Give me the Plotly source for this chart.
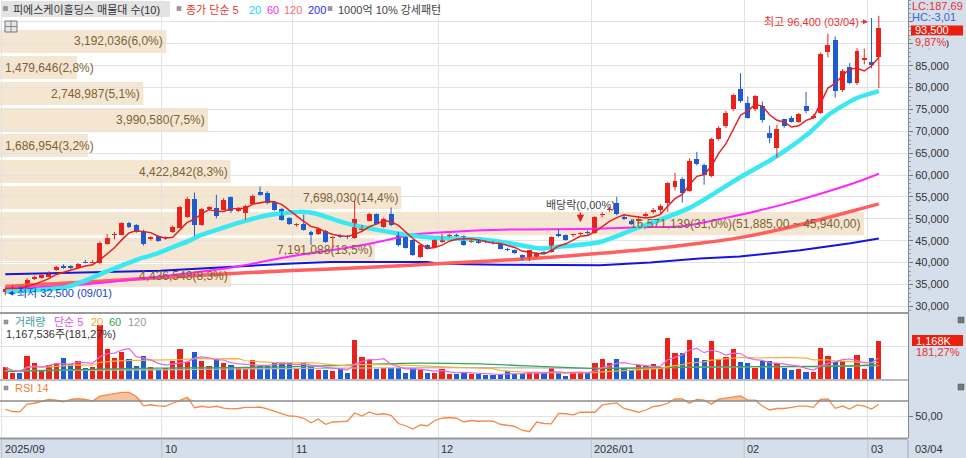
import plotly.graph_objects as go
import pandas as pd

# ---------------- data ----------------
opens = [33300, 34200, 34300, 34100, 36200, 36500, 36800, 38300, 39200, 39100,
         38700, 40200, 40000, 39900, 44300, 46300, 46400, 49000, 48500, 47300,
         45300, 46000, 45500, 47000, 48000, 50400, 54500, 48600, 52300, 52400,
         52000, 54900, 51700, 51300, 53400, 56200, 56000, 53800, 52300, 50100,
         48500, 48900, 46900, 46600, 47300, 45600, 46100, 46000, 45700, 47400,
         49600, 51000, 48100, 51000, 46700, 45800, 45100, 41300, 43900, 43500,
         44700, 46000, 46300, 46000, 44800, 45100, 44900, 44700, 44300, 43100,
         42800, 41700, 40500, 41300, 42400, 42400, 46600, 46200, 46200, 46500,
         46900, 46800, 50800, 52000, 53500, 50400, 49400, 49600, 50700, 51500,
         51900, 53500, 57200, 59100, 56400, 63700, 62300, 59700, 68200, 71200,
         75000, 79600, 76500, 75000, 75700, 69700, 66100, 72700, 73100, 72200,
         75800, 73100, 74200, 88200, 90900, 79500, 84600, 81000, 86400, 85900,
         87000]
highs = [34300, 34800, 34700, 36400, 37000, 37300, 38000, 39300, 39600, 39400,
         39900, 40600, 40600, 44800, 46500, 47000, 49200, 49300, 48800, 47500,
         46000, 46200, 46000, 48500, 52900, 55000, 56000, 52500, 52900, 55500,
         54700, 55100, 52700, 53200, 55600, 57400, 56300, 54100, 52500, 50400,
         49000, 51000, 47300, 47900, 47500, 46000, 46500, 46300, 54200, 48600,
         51400, 51200, 50300, 52600, 47000, 46000, 45300, 44200, 44200, 45300,
         46500, 46600, 46600, 46200, 45300, 45300, 45100, 45000, 44500, 43400,
         43000, 41900, 42900, 42400, 42600, 46000, 47600, 46400, 46600, 46900,
         47300, 50600, 51500, 52700, 55000, 51100, 49900, 50600, 51500, 52500,
         53300, 58400, 60500, 59500, 63800, 65300, 62600, 68500, 71200, 74700,
         78600, 83300, 78000, 78300, 76800, 71300, 71500, 72900, 73500, 74200,
         79000, 74000, 88000, 92300, 91700, 84200, 85600, 89000, 88900, 95900,
         96400]
lows = [32500, 33900, 33900, 33900, 36000, 36300, 36600, 38100, 38600, 38500,
        38500, 39800, 39800, 39700, 44000, 45300, 46200, 47900, 46800, 43900,
        45000, 44700, 45200, 46800, 47800, 50200, 46100, 48400, 51800, 50100,
        51900, 51300, 51500, 49800, 53200, 55300, 53300, 51800, 49500, 48600,
        48200, 47300, 44000, 46300, 44500, 43400, 45600, 45400, 45400, 47100,
        49400, 48700, 47900, 48300, 43700, 43200, 41500, 41000, 43000, 43300,
        44500, 45800, 45900, 43800, 44500, 44300, 44400, 44100, 43000, 42600,
        41900, 40400, 40300, 41100, 42000, 42200, 45800, 45000, 45800, 46200,
        46400, 46600, 50300, 51600, 50800, 49700, 48600, 49300, 50300, 51200,
        51300, 51600, 56500, 53700, 56200, 62200, 57800, 59500, 67900, 70800,
        74600, 76500, 72900, 74600, 72000, 67300, 64000, 70800, 72000, 71900,
        74100, 72800, 74000, 86900, 77700, 79000, 80800, 80600, 85300, 84400,
        79900]
closes = [34050, 34300, 34100, 36100, 36600, 37100, 37700, 38900, 38800, 38700,
          39700, 40000, 40200, 44500, 45700, 46500, 49000, 48200, 47000, 44200,
          45800, 44900, 45800, 48100, 52600, 54500, 48500, 52300, 52600, 50600,
          54300, 51700, 52500, 53000, 55300, 55500, 53600, 52100, 49800, 48900,
          48700, 47500, 46400, 47700, 44700, 45800, 45900, 45800, 50000, 48100,
          51100, 48900, 50000, 48500, 43900, 43400, 41700, 43900, 43200, 45100,
          46000, 46200, 46100, 43900, 45000, 44500, 44600, 44400, 43200, 42900,
          42100, 40500, 42800, 42200, 42200, 45800, 46000, 45200, 46400, 46600,
          46700, 50300, 51100, 52300, 51000, 49900, 48900, 50000, 51100, 52100,
          53000, 58100, 58700, 56000, 63200, 62500, 60100, 68200, 70800, 74200,
          78300, 76900, 73100, 78000, 72500, 68400, 70600, 71200, 72200, 73900,
          74600, 73500, 87700, 89800, 79100, 83700, 81000, 88400, 86700, 85100,
          93500]
volumes = [364000, 182000, 182000, 707000, 505000, 263000, 434000, 485000, 657000, 465000,
           566000, 354000, 384000, 1646000, 919000, 657000, 818000, 626000, 404000, 707000,
           384000, 283000, 354000, 556000, 919000, 535000, 838000, 556000, 414000, 606000,
           505000, 434000, 384000, 303000, 586000, 414000, 414000, 485000, 485000, 485000,
           354000, 485000, 384000, 283000, 283000, 263000, 354000, 202000, 1192000, 667000,
           586000, 313000, 354000, 354000, 354000, 202000, 354000, 283000, 182000, 202000,
           303000, 152000, 152000, 232000, 152000, 152000, 131000, 131000, 162000, 253000,
           152000, 172000, 232000, 182000, 182000, 354000, 182000, 111000, 232000, 212000,
           232000, 485000, 606000, 485000, 606000, 333000, 283000, 434000, 414000, 465000,
           384000, 1242000, 808000, 808000, 1192000, 636000, 586000, 1172000, 586000, 687000,
           919000, 535000, 505000, 333000, 566000, 556000, 485000, 354000, 283000, 303000,
           232000, 232000, 939000, 707000, 535000, 556000, 333000, 737000, 303000, 644085,
           1167536]
rsi14 = [59, 56, 55.5, 66, 67, 69, 72, 71, 69, 72,
         73, 72, 70, 76.5, 78, 79, 81.5, 81.5, 76, 63.5,
         65, 63.5, 63, 67, 71, 75, 61, 63, 61.5, 63,
         60.5, 59.5, 60, 61.5, 61.5, 62, 59.5, 56, 53, 50,
         49.5, 47, 41, 46, 39, 42, 42.5, 43, 54, 50,
         55.5, 52, 53, 51, 40, 37, 32.7, 38, 37, 44,
         47, 48, 47, 42, 44, 43, 43.5, 43, 39, 37.5,
         36, 31, 29, 42, 40, 39.5, 53.5, 53, 51.5, 55,
         55.5, 55, 64.7, 66, 67.5, 60, 58, 55, 58, 62.4,
         64, 67, 72.7, 72.7, 66.9, 72, 71, 65.8, 72.5, 74.2,
         75.6, 76.9, 71.1, 71.1, 63.3, 58, 60, 60, 61.5, 63.3,
         63.3, 61.5, 72, 72.7, 60.2, 63.3, 59.3, 64.7, 63.3, 59.3,
         65.6]

# moving averages (candle index, value)
ma20_idx = [0, 8.5, 14.4, 18.5, 20.6, 23.0, 25.3, 26.75, 29.8, 32.5, 35.7, 39.5, 40.8, 42.6, 47.0, 52.9,
            58.3, 65.2, 69.7, 73.5, 76.6, 81.7, 86.2, 94.0, 100.9, 105.5, 110.2, 113.3, 117.0, 120]
ma20_val = [33400, 34450, 38250, 40900, 41900, 43500, 45000, 46200, 47900, 49300, 50700, 51500, 51600, 51200, 48900, 46950,
            45700, 45300, 44300, 43200, 43700, 44700, 47500, 52500, 59450, 63800, 69300, 74000, 77600, 79200]
ma60_idx = [0, 10.3, 21.3, 30.9, 39.5, 47.4, 51.5, 55.6, 61.1, 68, 80.8, 88.6, 93.1, 98.6, 103.3, 107.8, 112.3, 117, 120]
ma60_val = [34000, 34900, 36800, 38800, 41500, 43500, 44800, 46300, 47000, 47500, 47700, 48100, 48300, 50100, 51800,
            53700, 55900, 58400, 60300]
ma120_idx = [0, 13, 26.8, 39.5, 50.1, 61.1, 72.3, 81.7, 88.6, 95.4, 100.9, 106.8, 113.3, 120]
ma120_val = [34500, 35700, 37100, 38200, 38900, 39900, 40900, 42100, 43100, 44400, 45700, 47700, 50400, 53400]
ma200_idx = [0, 21.3, 39.5, 44.6, 58.0, 59.7, 68, 81.7, 88.6, 95.4, 100.9, 109.2, 116.1, 120]
ma200_val = [37300, 38100, 39800, 40100, 40100, 39700, 39500, 39400, 40000, 40900, 41400, 42800, 44400, 45500]
vma60_idx = [0, 8.4, 17.6, 31.3, 45.1, 54.2, 65.2, 74.4, 80.7, 90.9, 100.9, 111, 119.8]
vma60_val = [232000, 282000, 333000, 353000, 413000, 484000, 464000, 383000, 333000, 353000, 383000, 383000, 433000]
vma120_idx = [0, 17.6, 41, 65.2, 80.7, 90.9, 120]
vma120_val = [262000, 282000, 333000, 353000, 333000, 353000, 413000]

month_start_idx = [0, 22, 40, 60, 81, 102, 119]
month_labels = ["2025/09", "10", "11", "12", "2026/01", "02", "03"]
last_date = "03/04"

# volume profile (매물대), bottom band first
band_low = 34050
band_step = 5945
band_vol = [4436548, 7191088, 16571139, 7698030, 4422842, 1686954, 3990580, 2748987, 1479646, 3192036]
band_pct = [8.3, 13.5, 31.0, 14.4, 8.3, 3.2, 7.5, 5.1, 2.8, 6.0]

price_ticks = [30000, 35000, 40000, 45000, 50000, 55000, 60000, 65000, 70000, 75000, 80000, 85000, 90000, 95000]

# ---------------- geometry / styles ----------------
W, H = 966, 458
PW, PH = 908, 438
STEP_PX = 7.28
X0_PX = 1.6


def xi(p):
    return (p - X0_PX) / STEP_PX - 0.5


X_LEFT, X_RIGHT = xi(0), xi(PW)
K = 0.004375          # px per won
Y30 = 306.3           # pixel row of 30,000


def price_at(y):
    return 30000 + (Y30 - y) / K


P_LO, P_HI = price_at(313), price_at(0)
VPX = 30247
V_LO, V_HI = -0.7 * VPX, (379.3 - 313) * VPX
R_LO, R_HI = 50 - (438 - 416) / 0.75, 50 + (416 - 380) / 0.75


def px(x):
    return x / PW


def py(y):
    return 1 - y / PH


FONT = "Liberation Sans, Arial, Noto Sans CJK KR, sans-serif"
FS = 11
BFONT = "Liberation Sans, Arial, Noto Sans CJK KR, sans-serif"
RED = "#e8231b"
BLUE = "#1e5ccf"
PANEL = "#d5dfec"
GRID = "#e2e2e2"

n = len(closes)
idx = list(range(n))

fig = go.Figure()


def add_line(xs, ys, color, width, yaxis="y", spline=True):
    ln = dict(color=color, width=width)
    if spline:
        ln.update(shape="spline", smoothing=0.7)
    fig.add_trace(go.Scatter(x=xs, y=ys, mode="lines", line=ln, xaxis="x", yaxis=yaxis,
                             hoverinfo="skip", showlegend=False))


# price moving averages
add_line(ma200_idx, ma200_val, "#1515e0", 2, spline=False)
add_line(ma120_idx, ma120_val, "#ff5f5f", 3.5)
add_line(ma60_idx, ma60_val, "#ff26ff", 2)
add_line(ma20_idx, ma20_val, "#3ae8f2", 4.5)

# candles
up = [i for i in idx if closes[i] >= opens[i]]
dn = [i for i in idx if closes[i] < opens[i]]
MINH = 230
for group, col in ((up, RED), (dn, BLUE)):
    wx, wy = [], []
    for i in group:
        wx += [i, i, None]
        wy += [lows[i], highs[i], None]
    fig.add_trace(go.Scatter(x=wx, y=wy, mode="lines", line=dict(color=col, width=1),
                             xaxis="x", yaxis="y", hoverinfo="skip", showlegend=False))
    hts, bases = [], []
    for i in group:
        d = abs(closes[i] - opens[i])
        lo = min(closes[i], opens[i])
        if d < MINH:
            lo -= (MINH - d) / 2
            d = MINH
        hts.append(d)
        bases.append(lo)
    fig.add_trace(go.Bar(x=group, y=hts, base=bases, width=0.68, marker=dict(color=col, line=dict(width=0)),
                         xaxis="x", yaxis="y", hoverinfo="skip", showlegend=False))

# 5-day MA of close
ma5 = pd.Series(closes).rolling(5, min_periods=1).mean().tolist()
add_line(idx, ma5, "#e62020", 1.5, spline=False)

# volume
vcol = [RED if closes[i] >= opens[i] else BLUE for i in idx]
fig.add_trace(go.Bar(x=idx, y=volumes, width=0.72, marker=dict(color=vcol, line=dict(width=0)),
                     xaxis="x", yaxis="y2", hoverinfo="skip", showlegend=False))
vs = pd.Series(volumes)
add_line(vma120_idx, vma120_val, "#b4b4b4", 1.3, yaxis="y2")
add_line(vma60_idx, vma60_val, "#35a855", 1.3, yaxis="y2")
add_line(idx, vs.rolling(20, min_periods=1).mean().tolist(), "#f3b33c", 1.2, yaxis="y2", spline=False)
add_line(idx, vs.rolling(5, min_periods=1).mean().tolist(), "#e468e4", 1.2, yaxis="y2", spline=False)

# RSI
fig.add_trace(go.Scatter(x=idx, y=[70] * n, mode="lines", line=dict(width=0, color="rgba(0,0,0,0)"),
                         xaxis="x", yaxis="y3", hoverinfo="skip", showlegend=False))
fig.add_trace(go.Scatter(x=idx, y=[max(r, 70) for r in rsi14], mode="lines", line=dict(width=0, color="rgba(0,0,0,0)"),
                         fill="tonexty", fillcolor="#f7c39d", xaxis="x", yaxis="y3", hoverinfo="skip",
                         showlegend=False))
fig.add_trace(go.Scatter(x=idx, y=rsi14, mode="lines", line=dict(color="#f28a4c", width=1.3),
                         xaxis="x", yaxis="y3", hoverinfo="skip", showlegend=False))

# ---------------- shapes ----------------
shapes = []
annos = []
max_vol = max(band_vol)
BAND_W = xi(864) - X_LEFT
inset = band_step * 0.055
for k in range(len(band_vol)):
    lo = band_low + k * band_step
    hi = lo + band_step
    x1 = X_LEFT + band_vol[k] / max_vol * BAND_W
    shapes.append(dict(type="rect", xref="x", yref="y", x0=X_LEFT, x1=x1, y0=lo + inset, y1=hi - inset,
                       fillcolor="#f5e6d2", line=dict(width=0), layer="below"))
    label = f"{band_vol[k]:,}({band_pct[k]:.1f}%)".replace(".", ",")
    if band_vol[k] == max_vol:
        label += f"({hi:,.2f} ~ {lo:,.2f})".replace(".", ",")
    if band_pct[k] < 3.5:
        annos.append(dict(x=X_LEFT, y=(lo + hi) / 2, xref="x", yref="y", text=label, showarrow=False,
                          xanchor="left", xshift=3, font=dict(family=BFONT, size=12, color="#7d6232")))
    else:
        annos.append(dict(x=x1, y=(lo + hi) / 2, xref="x", yref="y", text=label, showarrow=False,
                          xanchor="right", xshift=-1, font=dict(family=BFONT, size=12, color="#7d6232")))

# panel separators / frames
for yy, col, wd in ((313, "#9c9c9c", 2), (380, "#a5a5a5", 1.5), (438.5, "#9a9a9a", 2)):
    shapes.append(dict(type="line", xref="paper", yref="paper", x0=0, x1=1, y0=py(yy), y1=py(yy),
                       line=dict(color=col, width=wd)))
shapes.append(dict(type="line", xref="paper", yref="y3", x0=0, x1=1, y0=70, y1=70,
                   line=dict(color="#8c8c8c", width=1.5)))
# month lines inside the date strip
for m in month_start_idx:
    shapes.append(dict(type="line", xref="x", yref="paper", x0=m - 0.5, x1=m - 0.5, y0=py(440), y1=py(458),
                       line=dict(color="#b9c3d1", width=1)))
shapes.append(dict(type="line", xref="paper", yref="paper", x0=px(PW), x1=px(PW), y0=py(440), y1=py(458),
                   line=dict(color="#9aa4b2", width=1)))

# title box and legend markers
shapes.append(dict(type="rect", xref="paper", yref="paper", x0=px(2), x1=px(170), y0=py(17), y1=py(1),
                   fillcolor="#e3e3e3", line=dict(width=0)))
for (sx, sy) in ((3.5, 8.5), (177, 8.5), (328, 8.5), (4, 322), (4, 388)):
    shapes.append(dict(type="rect", xref="paper", yref="paper", x0=px(sx), x1=px(sx + 4), y0=py(sy + 2),
                       y1=py(sy - 2), fillcolor="#9a9a9a", line=dict(color="#777", width=0.5)))
# table icon
shapes.append(dict(type="rect", xref="paper", yref="paper", x0=px(5), x1=px(17), y0=py(32), y1=py(21),
                   fillcolor="#e6e6e6", line=dict(color="#777", width=1)))
shapes.append(dict(type="line", xref="paper", yref="paper", x0=px(5), x1=px(17), y0=py(26.5), y1=py(26.5),
                   line=dict(color="#888", width=1)))
shapes.append(dict(type="line", xref="paper", yref="paper", x0=px(11), x1=px(11), y0=py(32), y1=py(21),
                   line=dict(color="#888", width=1)))
# right panel small icons
for sy in (320, 387):
    shapes.append(dict(type="rect", xref="paper", yref="paper", x0=px(958), x1=px(964), y0=py(sy + 3),
                       y1=py(sy - 3), fillcolor="#777", line=dict(color="#555", width=0.5)))
# price / volume value boxes
shapes.append(dict(type="rect", xref="paper", yref="paper", x0=px(911), x1=px(963), y0=py(35.5), y1=py(25.5),
                   fillcolor="#e8200f", line=dict(width=0)))
shapes.append(dict(type="rect", xref="paper", yref="paper", x0=px(912), x1=px(963), y0=py(346), y1=py(335),
                   fillcolor="#e8200f", line=dict(width=0)))


def txt(x, y, s, color="#333", size=FS, family=FONT, xanchor="left", **kw):
    d = dict(x=px(x), y=py(y), xref="paper", yref="paper", text=s, showarrow=False, xanchor=xanchor,
             yanchor="middle", font=dict(family=family, size=size, color=color))
    d.update(kw)
    return d


# top legend
annos += [
    txt(11, 9.5, "피에스케이홀딩스 매물대 수(10)", "#333"),
    txt(184, 9.5, "종가 단순 5", "#e8382a"),
    txt(247, 9.5, "20", "#22d8ea"),
    txt(265, 9.5, "60", "#f030f0"),
    txt(282, 9.5, "120", "#ff6b6b"),
    txt(306, 9.5, "200", "#2a2aff"),
    txt(336, 9.5, "1000억 10% 강세패턴", "#444"),
]
# volume legend
pct_prev = volumes[-1] / volumes[-2] * 100
annos += [
    txt(13, 322, "거래량", "#3d9ea3"),
    txt(52, 322, "단순 5", "#e05ae0"),
    txt(89, 322, "20", "#f0a830"),
    txt(107, 322, "60", "#2fa84f"),
    txt(126, 322, "120", "#9a9a9a"),
    txt(4, 334, f"{volumes[-1]:,}주({pct_prev:.2f}%)".replace(".", ","), "#333"),
    txt(13, 388, "RSI 14", "#f08040"),
]
# right axis texts
chg = (closes[-1] / closes[-2] - 1) * 100
annos += [
    txt(910, 5.5, "LC:187,69", "#e83030"),
    txt(910, 16.5, "HC:-3,01", "#3565d0"),
    txt(913, 30.5, f"{closes[-1]:,}", "white"),
    txt(914, 41.5, f"{chg:.2f}%".replace(".", ","), "#e83030", bgcolor=PANEL, borderpad=0),
    txt(914, 340.5, f"{round(volumes[-1] / 1000):,}K", "white"),
    txt(914, 351.5, f"{pct_prev:.2f}%".replace(".", ","), "#e83030"),
]
# date labels
for m, lab in zip(month_start_idx, month_labels):
    annos.append(dict(x=m - 0.5, y=py(449), xref="x", yref="paper", text=lab, showarrow=False,
                      xanchor="left", xshift=1, yanchor="middle", font=dict(family=FONT, size=FS, color="#333")))
annos.append(txt(913, 449, last_date, "#333"))

# high / low / dividend markers
i_hi = highs.index(max(highs))
i_lo = lows.index(min(lows))
annos.append(dict(x=i_hi - 1.5, y=max(highs), xref="x", yref="y", yshift=-6,
                  text=f"최고 {max(highs):,} (03/04)", showarrow=True, arrowhead=2, arrowsize=1, arrowwidth=1,
                  arrowcolor="#e83030", ax=-56, ay=0, font=dict(family=FONT, size=FS, color="#e83030")))
annos.append(dict(x=i_lo, y=min(lows), xref="x", yref="y", xshift=3, yshift=2,
                  text=f"최저 {min(lows):,} (09/01)", showarrow=True, arrowhead=2, arrowsize=1, arrowwidth=1,
                  arrowcolor="#2040d0", ax=56, ay=0, font=dict(family=FONT, size=FS, color="#2040d0")))
annos.append(dict(x=79, y=highs[79], xref="x", yref="y", yshift=10,
                  text="배당락(0,00%)", showarrow=True, arrowhead=2, arrowsize=1, arrowwidth=1.5,
                  arrowcolor="#e02020", ax=0, ay=-17, font=dict(family=FONT, size=FS, color="#444")))

fig.update_layout(
    width=W, height=H,
    margin=dict(l=0, r=W - PW, t=0, b=H - PH, pad=0),
    paper_bgcolor=PANEL, plot_bgcolor="white",
    barmode="overlay", bargap=0, showlegend=False, hovermode=False,
    font=dict(family=FONT, size=FS, color="#333"),
    xaxis=dict(domain=[0, 1], range=[X_LEFT, X_RIGHT], anchor="y3", tickmode="array",
               tickvals=[m - 0.5 for m in month_start_idx], showticklabels=False, ticks="",
               showgrid=True, gridcolor=GRID, gridwidth=1, zeroline=False, showline=False, fixedrange=True),
    yaxis=dict(domain=[1 - 313 / PH, 1], range=[P_LO, P_HI], side="right", anchor="x", tickmode="array",
               tickvals=price_ticks, ticktext=[f"{t:,}" if t < 95000 else "" for t in price_ticks],
               showgrid=True, gridcolor=GRID, gridwidth=1, zeroline=False, ticks="outside", ticklen=4,
               tickcolor="#777", showline=True, linecolor="#8a8a8a", linewidth=1,
               tickfont=dict(family=FONT, size=FS, color="#333"),
               minor=dict(tickmode="linear", tick0=0, dtick=1000, ticks="outside", ticklen=2,
                          tickcolor="#999", showgrid=False)),
    yaxis2=dict(domain=[58 / PH, 1 - 313 / PH], range=[V_LO, V_HI], side="right", anchor="x",
                tickmode="array", tickvals=[0, 1000000], showticklabels=False, ticks="",
                showgrid=True, gridcolor=GRID, zeroline=False, showline=True, linecolor="#8a8a8a"),
    yaxis3=dict(domain=[0, 58 / PH], range=[R_LO, R_HI], side="right", anchor="x", tickmode="array",
                tickvals=[50], ticktext=["50,00"], ticks="outside", ticklen=4, tickcolor="#777",
                showgrid=True, gridcolor=GRID, zeroline=False, showline=True, linecolor="#8a8a8a",
                tickfont=dict(family=FONT, size=FS, color="#333")),
    shapes=shapes,
    annotations=annos,
)

fig.write_html("out.html", config={"staticPlot": True},
               post_script="document.body.style.margin='0';document.body.style.padding='0';"
                           "document.body.style.overflow='hidden';")
